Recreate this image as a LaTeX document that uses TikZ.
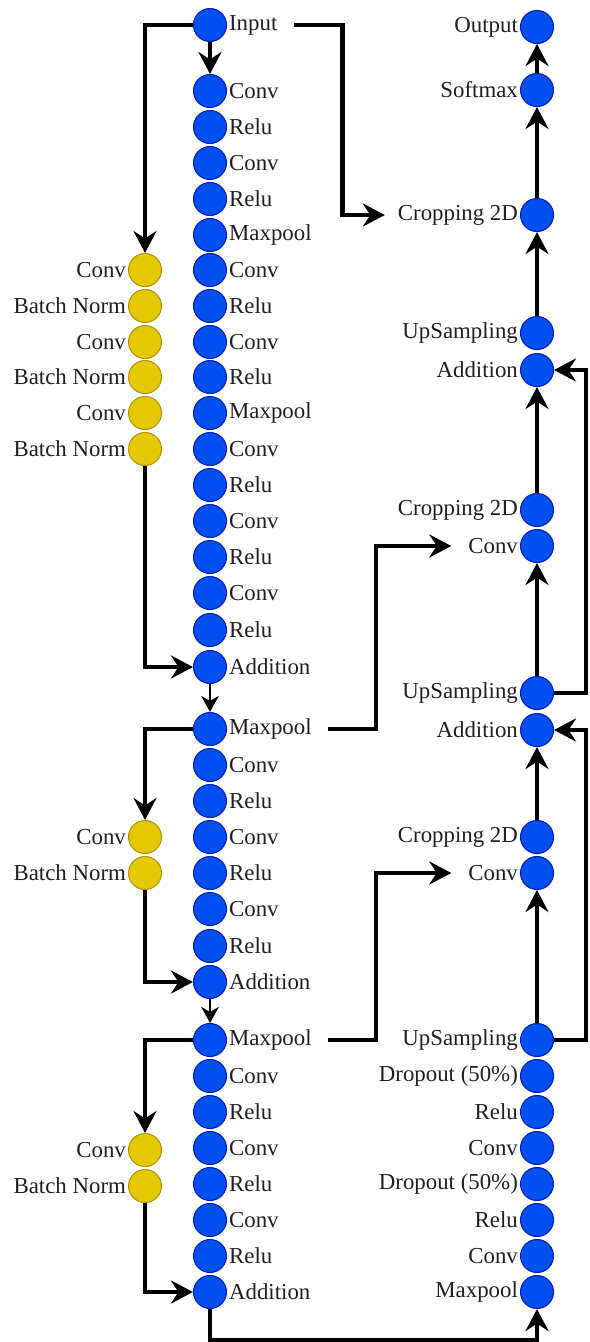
\documentclass[tikz,border=0pt]{standalone}
\usepackage{fontspec}
\setmainfont{Liberation Serif}
\usetikzlibrary{arrows.meta}
\definecolor{netblue}{HTML}{0050EF}
\definecolor{netblueline}{HTML}{001DBC}
\definecolor{netyellow}{HTML}{E3C800}
\definecolor{netyellowline}{HTML}{B09500}
\tikzset{
	bnode/.style={circle,fill=netblue,draw=netblueline,line width=0.6pt,minimum size=0.66cm,inner sep=0pt},
	ynode/.style={circle,fill=netyellow,draw=netyellowline,line width=0.6pt,minimum size=0.66cm,inner sep=0pt},
	lbl/.style={inner sep=1pt,font=\fontsize{13}{15}\selectfont,text=black!88},
	flow/.style={line width=2.4pt,-{Stealth[length=4.4mm,width=4.6mm,inset=1.5mm]}},
	thinflow/.style={line width=1.7pt,-{Stealth[length=3.2mm,width=3.5mm,inset=1mm]}}
}
\begin{document}
\begin{tikzpicture}[x=0.02cm,y=-0.02cm]
		\useasboundingbox (0,0) rectangle (589,1342);
		% main column
		\node[bnode,label={[lbl,name=inl]right:Input}] (l1) at (210,25) {};
		\node[bnode,label={[lbl]right:Conv}] (l2) at (210,91) {};
		\node[bnode,label={[lbl]right:Relu}] (l3) at (210,127) {};
		\node[bnode,label={[lbl]right:Conv}] (l4) at (210,163) {};
		\node[bnode,label={[lbl]right:Relu}] (l5) at (210,199) {};
		\node[bnode,label={[lbl]right:Maxpool}] (l6) at (210,235) {};
		\node[bnode,label={[lbl]right:Conv}] (l7) at (210,270) {};
		\node[bnode,label={[lbl]right:Relu}] (l8) at (210,306) {};
		\node[bnode,label={[lbl]right:Conv}] (l9) at (210,342) {};
		\node[bnode,label={[lbl]right:Relu}] (l10) at (210,377) {};
		\node[bnode,label={[lbl]right:Maxpool}] (l11) at (210,413) {};
		\node[bnode,label={[lbl]right:Conv}] (l12) at (210,449) {};
		\node[bnode,label={[lbl]right:Relu}] (l13) at (210,485) {};
		\node[bnode,label={[lbl]right:Conv}] (l14) at (210,521) {};
		\node[bnode,label={[lbl]right:Relu}] (l15) at (210,557) {};
		\node[bnode,label={[lbl]right:Conv}] (l16) at (210,593) {};
		\node[bnode,label={[lbl]right:Relu}] (l17) at (210,630) {};
		\node[bnode,label={[lbl]right:Addition}] (l18) at (210,667) {};
		\node[bnode,label={[lbl,name=mp1l]right:Maxpool}] (l19) at (210,729) {};
		\node[bnode,label={[lbl]right:Conv}] (l20) at (210,765) {};
		\node[bnode,label={[lbl]right:Relu}] (l21) at (210,801) {};
		\node[bnode,label={[lbl]right:Conv}] (l22) at (210,837) {};
		\node[bnode,label={[lbl]right:Relu}] (l23) at (210,873) {};
		\node[bnode,label={[lbl]right:Conv}] (l24) at (210,909) {};
		\node[bnode,label={[lbl]right:Relu}] (l25) at (210,946) {};
		\node[bnode,label={[lbl]right:Addition}] (l26) at (210,982) {};
		\node[bnode,label={[lbl,name=mp2l]right:Maxpool}] (l27) at (210,1040) {};
		\node[bnode,label={[lbl]right:Conv}] (l28) at (210,1076) {};
		\node[bnode,label={[lbl]right:Relu}] (l29) at (210,1112) {};
		\node[bnode,label={[lbl]right:Conv}] (l30) at (210,1148) {};
		\node[bnode,label={[lbl]right:Relu}] (l31) at (210,1184) {};
		\node[bnode,label={[lbl]right:Conv}] (l32) at (210,1220) {};
		\node[bnode,label={[lbl]right:Relu}] (l33) at (210,1256) {};
		\node[bnode,label={[lbl]right:Addition}] (l34) at (210,1292) {};
		% shortcut branches
		\node[ynode,label={[lbl]left:Conv}] (y1) at (145,270) {};
		\node[ynode,label={[lbl]left:Batch Norm}] (y2) at (145,306) {};
		\node[ynode,label={[lbl]left:Conv}] (y3) at (145,342) {};
		\node[ynode,label={[lbl]left:Batch Norm}] (y4) at (145,377) {};
		\node[ynode,label={[lbl]left:Conv}] (y5) at (145,413) {};
		\node[ynode,label={[lbl]left:Batch Norm}] (y6) at (145,449) {};
		\node[ynode,label={[lbl]left:Conv}] (y7) at (145,837) {};
		\node[ynode,label={[lbl]left:Batch Norm}] (y8) at (145,873) {};
		\node[ynode,label={[lbl]left:Conv}] (y9) at (145,1150) {};
		\node[ynode,label={[lbl]left:Batch Norm}] (y10) at (145,1186) {};
		% decoder column
		\node[bnode,label={[lbl]left:Output}] (r1) at (537,27) {};
		\node[bnode,label={[lbl]left:Softmax}] (r2) at (537,90) {};
		\node[bnode,label={[lbl,name=cr1l]left:Cropping 2D}] (r3) at (537,215) {};
		\node[bnode,label={[lbl]left:UpSampling}] (r4) at (537,333) {};
		\node[bnode,label={[lbl]left:Addition}] (r5) at (537,370) {};
		\node[bnode,label={[lbl]left:Cropping 2D}] (r6) at (537,510) {};
		\node[bnode,label={[lbl,name=cv1l]left:Conv}] (r7) at (537,546) {};
		\node[bnode,label={[lbl]left:UpSampling}] (r8) at (537,693) {};
		\node[bnode,label={[lbl]left:Addition}] (r9) at (537,730) {};
		\node[bnode,label={[lbl]left:Cropping 2D}] (r10) at (537,837) {};
		\node[bnode,label={[lbl,name=cv2l]left:Conv}] (r11) at (537,873) {};
		\node[bnode,label={[lbl]left:UpSampling}] (r12) at (537,1040) {};
		\node[bnode,label={[lbl]left:Dropout (50\%)}] (r13) at (537,1076) {};
		\node[bnode,label={[lbl]left:Relu}] (r14) at (537,1112) {};
		\node[bnode,label={[lbl]left:Conv}] (r15) at (537,1148) {};
		\node[bnode,label={[lbl]left:Dropout (50\%)}] (r16) at (537,1184) {};
		\node[bnode,label={[lbl]left:Relu}] (r17) at (537,1220) {};
		\node[bnode,label={[lbl]left:Conv}] (r18) at (537,1256) {};
		\node[bnode,label={[lbl]left:Maxpool}] (r19) at (537,1292) {};
		% connectors
		\draw[flow] (l1.west) -| (y1.north);
		\draw[flow] (l1) -- (l2);
		\draw[flow,shorten <=0.3cm,shorten >=0.22cm] (inl.east) -- ++(63,0) |- (cr1l.west);
		\draw[flow] (y6.south) |- (l18.west);
		\draw[thinflow] (l18) -- (l19);
		\draw[flow] (l19.west) -| (y7.north);
		\draw[flow,shorten <=0.28cm,shorten >=0.3cm] (mp1l.east) -- ++(62,0) |- (cv1l.west);
		\draw[flow] (y8.south) |- (l26.west);
		\draw[thinflow] (l26) -- (l27);
		\draw[flow] (l27.west) -| (y9.north);
		\draw[flow,shorten <=0.28cm,shorten >=0.3cm] (mp2l.east) -- ++(62,0) |- (cv2l.west);
		\draw[flow] (y10.south) |- (l34.west);
		\draw[flow] (l34.south) -- ++(0,31) -| (r19.south);
		\draw[flow] (r12) -- (r11);
		\draw[flow] (r12.east) -- ++(32,0) |- (r9.east);
		\draw[flow] (r10) -- (r9);
		\draw[flow] (r8) -- (r7);
		\draw[flow] (r8.east) -- ++(32,0) |- (r5.east);
		\draw[flow] (r6) -- (r5);
		\draw[flow] (r4) -- (r3);
		\draw[flow] (r3) -- (r2);
		\draw[flow] (r2) -- (r1);
	\end{tikzpicture}
\end{document}
